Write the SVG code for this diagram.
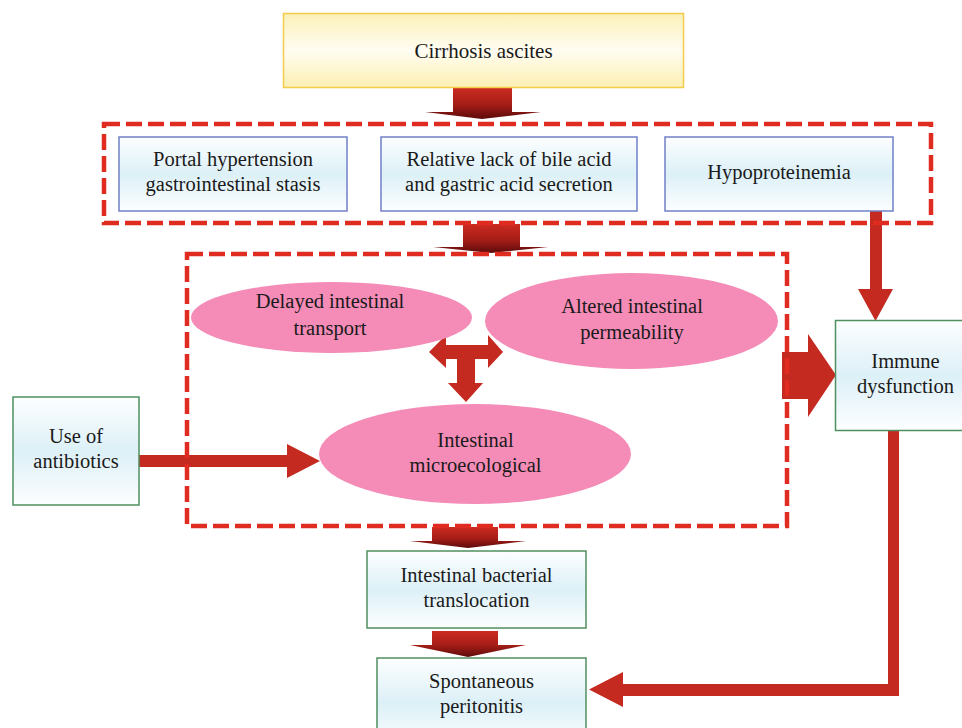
<svg xmlns="http://www.w3.org/2000/svg" width="962" height="728" viewBox="0 0 962 728">
<defs>
  <linearGradient id="gYellow" x1="0" y1="0" x2="0" y2="1">
    <stop offset="0" stop-color="#fcf0b8"/>
    <stop offset="0.5" stop-color="#fffdf2"/>
    <stop offset="1" stop-color="#fcefb2"/>
  </linearGradient>
  <linearGradient id="gBlue" x1="0" y1="0" x2="0" y2="1">
    <stop offset="0" stop-color="#fdfeff"/>
    <stop offset="0.5" stop-color="#dcf0f7"/>
    <stop offset="1" stop-color="#fdfeff"/>
  </linearGradient>
  <linearGradient id="gArrow" x1="0" y1="0" x2="0" y2="1">
    <stop offset="0" stop-color="#cc2b20"/>
    <stop offset="0.55" stop-color="#a51d17"/>
    <stop offset="1" stop-color="#5c0b0b"/>
  </linearGradient>
  <style>
    text { font-family: "Liberation Serif", "Times New Roman", serif; font-size: 20.5px; fill: #1a1a1a; text-anchor: middle; }
    .dash { fill: none; stroke: #e02b20; stroke-width: 4.5; stroke-dasharray: 16 6; }
    .boxY { fill: url(#gYellow); stroke: #f2cc4a; stroke-width: 1.5; }
    .boxB { fill: url(#gBlue); stroke: #7080c8; stroke-width: 1.5; }
    .boxG { fill: url(#gBlue); stroke: #4f8f5f; stroke-width: 1.5; }
    .ell { fill: #f48cb7; }
    .solid { fill: #c42a20; }
    .block { fill: url(#gArrow); }
  </style>
</defs>

<g id="connectors">
  <!-- Cirrhosis -> group 1 -->
  <path class="block" d="M453,87 H512 V112 H541 L482,119 L425,112 H453 Z"/>
  <!-- group 1 -> group 2 -->
  <path class="block" d="M463,224 H520 V247 H548 L491,253 L433,247 H463 Z"/>
  <!-- group 2 -> Intestinal bacterial translocation -->
  <path class="block" d="M432,527 H498 V541 H526 L468,548 L410,541 H432 Z"/>
  <!-- translocation -> Spontaneous peritonitis -->
  <path class="block" d="M432,631 H498 V645 H526 L468,657 L410,645 H432 Z"/>
  <!-- Hypoproteinemia -> Immune -->
  <path class="solid" d="M870,211 H882 V289 H893 L875.5,321 L858,289 H870 Z"/>
  <!-- group 2 -> Immune (fat) -->
  <path class="solid" d="M782,352 H808 V334 L836,375 L808,417 V399 H782 Z"/>
  <!-- Antibiotics -> Intestinal microecological -->
  <path class="solid" d="M139,455 H287 V444 L320,461 L287,478 V467 H139 Z"/>
  <!-- Immune -> Spontaneous peritonitis -->
  <path class="solid" d="M888,431 H899 V696 H623 V707 L589,689.5 L623,672 V684 H888 Z"/>
  <!-- three-way arrow -->
  <path class="solid" d="M429,352 L446,335 V345 H488 V335 L503,352 L488,368 V359 H475 V383 H483 L466,402 L448,383 H457 V359 H446 V368 Z"/>
</g>

<g id="group-top">
  <rect class="dash" x="104" y="124" width="827" height="99"/>
</g>
<g id="group-intestinal">
  <rect class="dash" x="187" y="254" width="600" height="272"/>
</g>

<g id="cirrhosis">
  <rect class="boxY" x="283.5" y="13.5" width="400" height="74"/>
  <text x="483.5" y="58" style="font-size:21px">Cirrhosis ascites</text>
</g>

<g id="portal">
  <rect class="boxB" x="119" y="137" width="228" height="74"/>
  <text x="233" y="166">Portal hypertension</text>
  <text x="233" y="191">gastrointestinal stasis</text>
</g>

<g id="bile">
  <rect class="boxB" x="381" y="137" width="256" height="74"/>
  <text x="509" y="166">Relative lack of bile acid</text>
  <text x="509" y="191">and gastric acid secretion</text>
</g>

<g id="hypo">
  <rect class="boxB" x="665" y="137" width="228" height="74"/>
  <text x="779" y="179">Hypoproteinemia</text>
</g>

<g id="delayed">
  <ellipse class="ell" cx="331.5" cy="317.5" rx="140.5" ry="35.5"/>
  <text x="330" y="308">Delayed intestinal</text>
  <text x="330" y="335">transport</text>
</g>

<g id="altered">
  <ellipse class="ell" cx="631.5" cy="321" rx="146.5" ry="48"/>
  <text x="632" y="313">Altered intestinal</text>
  <text x="632" y="339">permeability</text>
</g>

<g id="microecological">
  <ellipse class="ell" cx="475" cy="454" rx="156" ry="50"/>
  <text x="475.5" y="447">Intestinal</text>
  <text x="475.5" y="472">microecological</text>
</g>

<g id="antibiotics">
  <rect class="boxG" x="13" y="397" width="126" height="108"/>
  <text x="76" y="443">Use of</text>
  <text x="76" y="468">antibiotics</text>
</g>

<g id="immune">
  <rect class="boxG" x="835.5" y="320.5" width="140" height="110"/>
  <text x="905.5" y="368">Immune</text>
  <text x="905.5" y="393">dysfunction</text>
</g>

<g id="translocation">
  <rect class="boxG" x="367" y="551" width="219" height="77"/>
  <text x="476.5" y="582">Intestinal bacterial</text>
  <text x="476.5" y="607">translocation</text>
</g>

<g id="peritonitis">
  <rect class="boxG" x="377" y="658" width="209" height="90"/>
  <text x="481.5" y="688">Spontaneous</text>
  <text x="481.5" y="713">peritonitis</text>
</g>
</svg>
